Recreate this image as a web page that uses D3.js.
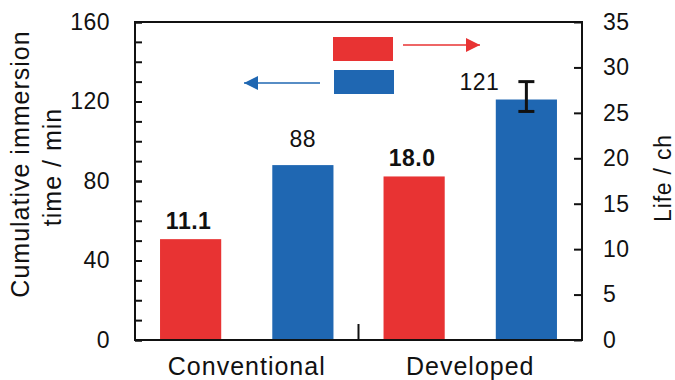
<!DOCTYPE html>
<html><head><meta charset="utf-8">
<script src="https://cdn.jsdelivr.net/npm/d3@7"></script>
<style>body{margin:0;background:#fff}svg{display:block}text{font-family:"Liberation Sans",Arial,sans-serif;fill:#111}</style>
</head><body>
<svg id="c" width="675" height="380"></svg>
<script>
const categories = ["Conventional", "Developed"];
const lifeValues = [11.1, 18.0];          // right axis, Life / ch (red)
const lifeLabels = ["11.1", "18.0"];
const timeValues = [88, 121];             // left axis, Cumulative immersion time / min (blue)
const timeLabels = ["88", "121"];
const timeErrUp = [null, 9];
const timeErrDown = [null, 6];
const leftTicks = [0, 40, 80, 120, 160];
const leftMinorTicks = d3.range(0, 161, 10);
const rightTicks = [0, 5, 10, 15, 20, 25, 30, 35];
const RED = "#E83333", BLUE = "#1F67B2";

const svg = d3.select("#c");
const L = 135, R = 582, T = 22, B = 340;
const x = d3.scaleBand().domain(categories).range([L, R]);
const sub = d3.scaleBand().domain(["life", "time"]).range([0, x.bandwidth()]).paddingInner(0.455).paddingOuter(0.223);
const yL = d3.scaleLinear().domain([0, 160]).range([B, T]);
const yR = d3.scaleLinear().domain([0, 35]).range([B, T]);
const font = 23;

// bars
categories.forEach((c, i) => {
  const xr = x(c) + sub("life"), xb = x(c) + sub("time"), w = sub.bandwidth();
  svg.append("rect").attr("x", xr).attr("y", yR(lifeValues[i])).attr("width", w)
    .attr("height", yR(0) - yR(lifeValues[i])).attr("fill", RED);
  svg.append("rect").attr("x", xb).attr("y", yL(timeValues[i])).attr("width", w)
    .attr("height", yL(0) - yL(timeValues[i])).attr("fill", BLUE);
  svg.append("text").attr("x", xr + w / 2 - 2).attr("y", yR(lifeValues[i]) - 10)
    .attr("text-anchor", "middle").attr("font-size", 23).attr("font-weight", "bold")
    .attr("letter-spacing", 0.5).text(lifeLabels[i]);
  if (timeErrUp[i]) {
    const cx = xb + w / 2;
    const top = yL(timeValues[i] + timeErrUp[i]), bot = yL(timeValues[i] - timeErrDown[i]);
    const g = svg.append("g").attr("stroke", "#111").attr("stroke-width", 3);
    g.append("line").attr("x1", cx).attr("x2", cx).attr("y1", top).attr("y2", bot);
    [top, bot].forEach(yy => g.append("line").attr("x1", cx - 8).attr("x2", cx + 8).attr("y1", yy).attr("y2", yy));
    svg.append("text").attr("x", cx - 47).attr("y", yL(timeValues[i]) - 10)
      .attr("text-anchor", "middle").attr("font-size", font).attr("letter-spacing", 0.5).text(timeLabels[i]);
  } else {
    svg.append("text").attr("x", xb + w / 2).attr("y", yL(timeValues[i]) - 18)
      .attr("text-anchor", "middle").attr("font-size", font).attr("letter-spacing", 0.5).text(timeLabels[i]);
  }
});

// axes
const styleAxis = g => { g.selectAll("line").attr("stroke", "#111").attr("stroke-width", 2);
  g.select(".domain").remove(); g.selectAll("text").attr("font-size", font).attr("fill", "#111")
   .attr("font-family", '"Liberation Sans",Arial,sans-serif').attr("letter-spacing", 0.5); };
svg.append("g").attr("transform", `translate(${L},0)`)
  .call(d3.axisLeft(yL).tickValues(leftMinorTicks).tickFormat("").tickSize(-7)).call(styleAxis);
svg.append("g").attr("transform", `translate(${L},0)`)
  .call(d3.axisLeft(yL).tickValues(leftTicks).tickSize(-7).tickPadding(25)).call(styleAxis);
svg.append("g").attr("transform", `translate(${R},0)`)
  .call(d3.axisRight(yR).tickValues(rightTicks).tickSize(-8).tickPadding(21)).call(styleAxis);
// separator tick between categories
svg.append("line").attr("x1", x("Developed")).attr("x2", x("Developed")).attr("y1", B).attr("y2", B - 16)
  .attr("stroke", "#111").attr("stroke-width", 2);
svg.selectAll(".cat").data(categories).join("text").attr("class", "cat")
  .attr("x", d => x(d) + x.bandwidth() / 2).attr("y", 375).attr("text-anchor", "middle")
  .attr("font-size", 25).attr("letter-spacing", 1).text(d => d);

// frame
svg.append("rect").attr("x", L).attr("y", T).attr("width", R - L).attr("height", B - T)
  .attr("fill", "none").attr("stroke", "#111").attr("stroke-width", 2);

// axis titles
svg.append("text").attr("transform", "translate(29,164) rotate(-90)").attr("text-anchor", "middle")
  .attr("font-size", 25).attr("letter-spacing", 1).text("Cumulative immersion");
svg.append("text").attr("transform", "translate(61,167) rotate(-90)").attr("text-anchor", "middle")
  .attr("font-size", 25).attr("letter-spacing", 1).text("time / min");
svg.append("text").attr("transform", "translate(671,178) rotate(-90)").attr("text-anchor", "middle")
  .attr("font-size", font).attr("letter-spacing", 0.8).text("Life / ch");

// legend (colour keys with arrows pointing to the axes)
const defs = svg.append("defs");
[["ar", RED], ["ab", BLUE]].forEach(([id, col]) => defs.append("marker").attr("id", id)
  .attr("viewBox", "0 0 10 10").attr("refX", 10).attr("refY", 5).attr("markerWidth", 16).attr("markerHeight", 14)
  .attr("markerUnits", "userSpaceOnUse").attr("orient", "auto")
  .append("path").attr("d", "M0,0L10,5L0,10Z").attr("fill", col));
svg.append("rect").attr("x", 333).attr("y", 37).attr("width", 60).attr("height", 24).attr("fill", RED);
svg.append("rect").attr("x", 334).attr("y", 70).attr("width", 60).attr("height", 24).attr("fill", BLUE);
svg.append("line").attr("x1", 403).attr("x2", 480).attr("y1", 45).attr("y2", 45)
  .attr("stroke", RED).attr("stroke-width", 1.5).attr("marker-end", "url(#ar)");
svg.append("line").attr("x1", 320).attr("x2", 244).attr("y1", 83).attr("y2", 83)
  .attr("stroke", BLUE).attr("stroke-width", 1.5).attr("marker-end", "url(#ab)");
</script>
</body></html>
